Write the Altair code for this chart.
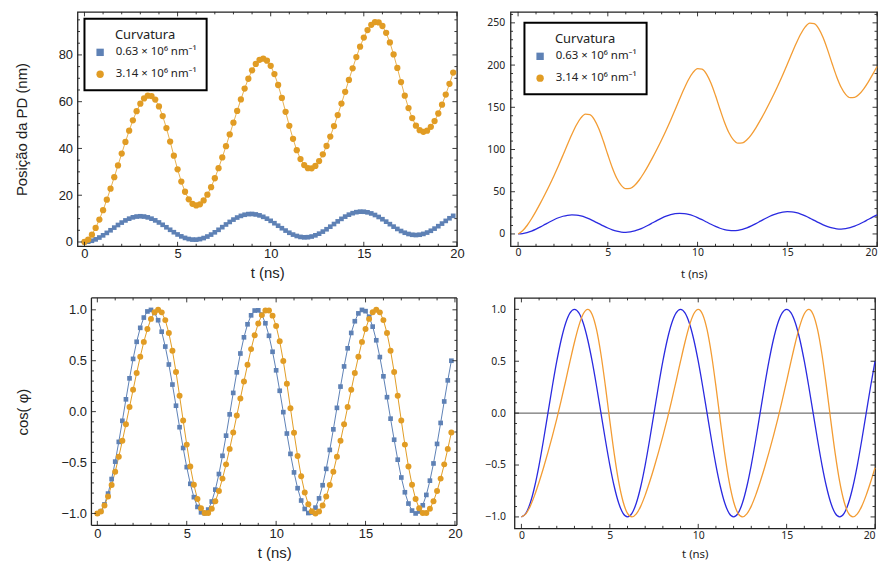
import altair as alt
import pandas as pd

# ---------------- data ----------------
T_LEFT = [0.0,0.2,0.4,0.6,0.8,1.0,1.2,1.4,1.6,1.8,2.0,2.2,2.4,2.6,2.8,3.0,3.2,3.4,3.6,3.8,
          4.0,4.2,4.4,4.6,4.8,5.0,5.2,5.4,5.6,5.8,6.0,6.2,6.4,6.6,6.8,7.0,7.2,7.4,7.6,7.8,
          8.0,8.2,8.4,8.6,8.8,9.0,9.2,9.4,9.6,9.8,10.0,10.2,10.4,10.6,10.8,11.0,11.2,11.4,11.6,11.8,
          12.0,12.2,12.4,12.6,12.8,13.0,13.2,13.4,13.6,13.8,14.0,14.2,14.4,14.6,14.8,15.0,15.2,15.4,15.6,15.8,
          16.0,16.2,16.4,16.6,16.8,17.0,17.2,17.4,17.6,17.8,18.0,18.2,18.4,18.6,18.8,19.0,19.2,19.4,19.6,19.8]

T_RIGHT = [0.0,0.25,0.5,0.75,1.0,1.25,1.5,1.75,2.0,2.25,2.5,2.75,3.0,3.25,3.5,3.75,4.0,4.25,4.5,4.75,
           5.0,5.25,5.5,5.75,6.0,6.25,6.5,6.75,7.0,7.25,7.5,7.75,8.0,8.25,8.5,8.75,9.0,9.25,9.5,9.75,
           10.0,10.25,10.5,10.75,11.0,11.25,11.5,11.75,12.0,12.25,12.5,12.75,13.0,13.25,13.5,13.75,14.0,14.25,14.5,14.75,
           15.0,15.25,15.5,15.75,16.0,16.25,16.5,16.75,17.0,17.25,17.5,17.75,18.0,18.25,18.5,18.75,19.0,19.25,19.5,19.75,
           20.0]

POS_BLUE_L = [0.00,0.15,0.53,1.12,1.91,2.84,3.89,5.01,6.15,7.27,
              8.30,9.22,9.97,10.54,10.88,11.00,10.88,10.53,9.97,9.24,
              8.35,7.35,6.29,5.22,4.18,3.22,2.40,1.74,1.27,1.03,
              1.01,1.23,1.68,2.33,3.17,4.14,5.21,6.34,7.49,8.58,
              9.58,10.45,11.16,11.65,11.93,11.98,11.78,11.38,10.76,9.97,
              9.05,8.03,6.96,5.89,4.88,3.95,3.17,2.57,2.17,1.99,
              2.05,2.34,2.85,3.56,4.44,5.45,6.54,7.68,8.81,9.89,
              10.85,11.68,12.32,12.75,12.97,12.94,12.68,12.21,11.54,10.70,
              9.74,8.70,7.63,6.57,5.58,4.69,3.96,3.42,3.09,2.97,
              3.11,3.46,4.03,4.80,5.72,6.76,7.87,9.02,10.14,11.18]

POS_ORANGE_L = [0.00,1.05,3.13,6.01,9.57,13.61,18.08,22.79,27.72,32.76,
                37.82,42.80,47.59,52.04,55.94,59.15,61.41,62.57,62.42,60.89,
                57.99,53.85,48.72,42.94,36.92,31.08,25.82,21.49,18.27,16.34,
                15.62,16.13,17.75,20.23,23.46,27.26,31.54,36.15,40.99,45.98,
                51.04,56.05,60.95,65.61,69.81,73.42,76.14,77.89,78.41,77.55,
                75.32,71.80,67.13,61.62,55.68,49.69,44.10,39.26,35.47,32.87,
                31.55,31.48,32.53,34.61,37.49,41.05,45.09,49.56,54.27,59.20,
                64.23,69.29,74.27,79.07,83.51,87.42,90.62,92.89,94.05,93.89,
                92.36,89.46,85.33,80.19,74.41,68.39,62.56,57.29,52.97,49.74,
                47.81,47.09,47.61,49.23,51.71,54.94,58.74,63.02,67.62,72.47]

COS_BLUE_L = [-1.000,-0.978,-0.911,-0.805,-0.662,-0.491,-0.297,-0.090,0.121,0.327,
              0.518,0.686,0.823,0.924,0.984,0.999,0.970,0.898,0.785,0.639,
              0.463,0.266,0.058,-0.153,-0.357,-0.545,-0.709,-0.840,-0.936,-0.989,
              -0.998,-0.962,-0.883,-0.766,-0.613,-0.434,-0.236,-0.027,0.184,0.386,
              0.571,0.730,0.858,0.946,0.993,0.995,0.952,0.868,0.745,0.588,
              0.406,0.205,-0.005,-0.215,-0.415,-0.597,-0.752,-0.873,-0.956,-0.996,
              -0.991,-0.943,-0.852,-0.723,-0.562,-0.376,-0.174,0.037,0.246,0.444,
              0.622,0.773,0.888,0.965,0.999,0.987,0.932,0.835,0.701,0.536,
              0.347,0.142,-0.069,-0.276,-0.472,-0.647,-0.792,-0.903,-0.972,-1.000,
              -0.981,-0.920,-0.818,-0.678,-0.509,-0.317,-0.111,0.100,0.307,0.500]

COS_ORANGE_L = [-1.000,-0.980,-0.922,-0.834,-0.721,-0.590,-0.443,-0.287,-0.123,0.045,
                0.214,0.380,0.539,0.685,0.811,0.911,0.976,1.000,0.975,0.899,
                0.772,0.599,0.389,0.155,-0.088,-0.324,-0.539,-0.719,-0.858,-0.949,
                -0.995,-0.995,-0.954,-0.881,-0.780,-0.658,-0.518,-0.366,-0.205,-0.039,
                0.130,0.297,0.460,0.614,0.751,0.866,0.948,0.994,0.994,0.943,
                0.841,0.691,0.498,0.274,0.034,-0.208,-0.435,-0.634,-0.794,-0.910,
                -0.978,-1.000,-0.980,-0.922,-0.834,-0.721,-0.590,-0.443,-0.287,-0.123,
                0.045,0.214,0.380,0.539,0.685,0.811,0.911,0.976,1.000,0.975,
                0.899,0.772,0.599,0.389,0.155,-0.088,-0.324,-0.539,-0.719,-0.858,
                -0.949,-0.995,-0.995,-0.954,-0.881,-0.780,-0.658,-0.518,-0.366,-0.205]

POS_BLUE_R = [0.00,0.45,1.61,3.40,5.72,8.40,11.28,14.16,16.84,19.16,
              20.95,22.11,22.56,22.27,21.27,19.64,17.48,14.96,12.24,9.52,
              7.00,4.84,3.21,2.21,1.92,2.37,3.53,5.32,7.64,10.32,
              13.20,16.08,18.76,21.08,22.87,24.03,24.48,24.19,23.19,21.56,
              19.40,16.88,14.16,11.44,8.92,6.76,5.13,4.13,3.84,4.29,
              5.45,7.24,9.56,12.24,15.12,18.00,20.68,23.00,24.79,25.95,
              26.40,26.11,25.11,23.48,21.32,18.80,16.08,13.36,10.84,8.68,
              7.05,6.05,5.76,6.21,7.37,9.16,11.48,14.16,17.04,19.92,
              22.60]

POS_ORANGE_R = [0.00,3.74,10.01,17.97,27.03,36.75,47.02,57.72,69.03,80.88,
                93.28,105.91,118.09,129.01,137.41,141.93,141.40,135.49,124.55,109.99,
                93.85,78.52,65.99,57.57,53.58,53.88,57.62,63.88,71.85,80.91,
                90.63,100.89,111.59,122.90,134.76,147.16,159.78,171.96,182.89,191.29,
                195.80,195.27,189.37,178.43,163.87,147.72,132.39,119.86,111.44,107.46,
                107.75,111.49,117.76,125.72,134.78,144.50,154.77,165.47,176.78,188.63,
                201.03,213.66,225.84,236.76,245.16,249.68,249.15,243.24,232.30,217.74,
                201.60,186.27,173.74,165.32,161.33,161.63,165.37,171.63,179.60,188.66,
                198.38]

COS_BLUE_R = [-1.000,-0.966,-0.866,-0.707,-0.500,-0.259,0.000,0.259,0.500,0.707,0.866,0.966,
              1.000,0.966,0.866,0.707,0.500,0.259,0.000,-0.259,-0.500,-0.707,-0.866,-0.966,
              -1.000,-0.966,-0.866,-0.707,-0.500,-0.259,0.000,0.259,0.500,0.707,0.866,0.966,
              1.000,0.966,0.866,0.707,0.500,0.259,0.000,-0.259,-0.500,-0.707,-0.866,-0.966,
              -1.000,-0.966,-0.866,-0.707,-0.500,-0.259,0.000,0.259,0.500,0.707,0.866,0.966,
              1.000,0.966,0.866,0.707,0.500,0.259,0.000,-0.259,-0.500,-0.707,-0.866,-0.966,
              -1.000,-0.966,-0.866,-0.707,-0.500,-0.259,0.000,0.259,0.500]

COS_ORANGE_R = [-1.000,-0.971,-0.896,-0.790,-0.664,-0.526,-0.378,-0.222,-0.055,0.122,0.309,0.500,0.683,
                0.843,0.957,1.000,0.951,0.804,0.565,0.260,-0.074,-0.393,-0.661,-0.854,-0.966,
                -1.000,-0.971,-0.896,-0.790,-0.664,-0.526,-0.378,-0.222,-0.055,0.122,0.309,0.500,0.683,
                0.843,0.957,1.000,0.951,0.804,0.565,0.260,-0.074,-0.393,-0.661,-0.854,-0.966,
                -1.000,-0.971,-0.896,-0.790,-0.664,-0.526,-0.378,-0.222,-0.055,0.122,0.309,0.500,0.683,
                0.843,0.957,1.000,0.951,0.804,0.565,0.260,-0.074,-0.393,-0.661,-0.854,-0.966,
                -1.000,-0.971,-0.896,-0.790,-0.664,-0.526]

SERIES = ["0.63 × 10⁶ nm⁻¹", "3.14 × 10⁶ nm⁻¹"]
LEGEND_TITLE = "Curvatura"

X_MAJOR = [0, 5, 10, 15, 20]
X_MINOR = [1, 2, 3, 4, 6, 7, 8, 9, 11, 12, 13, 14, 16, 17, 18, 19]
Y_TL_MAJOR = [0, 20, 40, 60, 80]
Y_TL_MINOR = [5, 10, 15, 25, 30, 35, 45, 50, 55, 65, 70, 75, 85, 90, 95]
Y_TR_MAJOR = [0, 50, 100, 150, 200, 250]
Y_TR_MINOR = [10, 20, 30, 40, 60, 70, 80, 90, 110, 120, 130, 140, 160, 170, 180, 190,
              210, 220, 230, 240, 260]
Y_COS_MAJOR = [-1.0, -0.5, 0.0, 0.5, 1.0]
Y_COS_MINOR = [-0.9, -0.8, -0.7, -0.6, -0.4, -0.3, -0.2, -0.1,
               0.1, 0.2, 0.3, 0.4, 0.6, 0.7, 0.8, 0.9]
ZERO_LINE = [0.0]

# ---------------- styles ----------------
MARK_COLORS = ["#5E81B5", "#E19C24"]
MARK_SHAPES = ["square", "circle"]
LINE_BLUE = "#2A2AE0"
LINE_ORANGE = "#F39C33"
INK = "#222222"
LF = "Liberation Sans"
RF = "Noto Sans"
FRAME_W = 1.3


def sdf(t, y, name):
    return pd.DataFrame({"t": t, "y": y, "s": [name] * len(t)})


def frame_ticks(W, H, xsc, ysc, xax, yax, xmaj, xmin, ymaj, ymin, inset=0, big=4.5, small=2.5):
    out = []
    for vals, ln in ((xmaj, big), (xmin, small)):
        base = alt.Chart(pd.DataFrame({"t": vals})).mark_rule(color=INK, strokeWidth=0.9)
        xe = alt.X("t:Q", scale=xsc, axis=xax)
        out.append(base.encode(x=xe, y=alt.value(H), y2=alt.value(H - ln)))
        out.append(base.encode(x=xe, y=alt.value(0), y2=alt.value(ln)))
    for vals, ln in ((ymaj, big), (ymin, small)):
        base = alt.Chart(pd.DataFrame({"y": vals})).mark_rule(color=INK, strokeWidth=0.9)
        ye = alt.Y("y:Q", scale=ysc, axis=yax)
        out.append(base.encode(y=ye, x=alt.value(inset), x2=alt.value(inset + ln)))
        out.append(base.encode(y=ye, x=alt.value(W), x2=alt.value(W - ln)))
    return out


def make_legend(lx, ly):
    return alt.Legend(
        title=LEGEND_TITLE, orient="none", legendX=lx, legendY=ly,
        titleAnchor="middle", titleFont=RF, titleFontSize=13, titleFontWeight="normal",
        titleColor=INK, titlePadding=5,
        labelFont=RF, labelFontSize=11.5, labelColor=INK, labelOffset=10,
        padding=10, rowPadding=9, symbolSize=55, symbolStrokeWidth=0,
        strokeColor="black", fillColor="white",
    )


def points(df, xsc, ysc, xax, yax, size, legend):
    return alt.Chart(df).mark_point(filled=True, opacity=1, size=size, strokeWidth=0).encode(
        x=alt.X("t:Q", scale=xsc, axis=xax),
        y=alt.Y("y:Q", scale=ysc, axis=yax),
        color=alt.Color("s:N", scale=alt.Scale(domain=SERIES, range=MARK_COLORS), legend=legend),
        shape=alt.Shape("s:N", scale=alt.Scale(domain=SERIES, range=MARK_SHAPES), legend=legend),
    )


def line(df, xsc, ysc, xax, yax, color, width, interp):
    return alt.Chart(df).mark_line(color=color, strokeWidth=width, interpolate=interp).encode(
        x=alt.X("t:Q", scale=xsc, axis=xax),
        y=alt.Y("y:Q", scale=ysc, axis=yax),
    )


def xaxis(font, lsize, tsize, lpad, tpad, flush=False, **extra):
    return alt.Axis(values=X_MAJOR, title="t (ns)", ticks=False, domain=False, grid=False,
                    labelFont=font, labelFontSize=lsize, labelColor=INK, labelPadding=lpad,
                    labelFlush=flush, labelOverlap=False, format="d",
                    titleFont=font, titleFontSize=tsize, titleFontWeight="normal",
                    titleColor=INK, titlePadding=tpad, **extra)


def yaxis(vals, fmt, font, lsize, lpad, title="", tsize=15, tpad=0, **extra):
    return alt.Axis(values=vals, ticks=False, domain=False, grid=False, format=fmt,
                    labelFont=font, labelFontSize=lsize, labelColor=INK, labelPadding=lpad,
                    labelFlush=False, labelOverlap=False,
                    title=title, titleFont=font, titleFontSize=tsize, titleFontWeight="normal",
                    titleColor=INK, titlePadding=tpad, **extra)


# ---------------- top-left: positions, markers ----------------
W1, H1 = 382, 236
xs1 = alt.Scale(domain=[-0.373, 20.0], nice=False, zero=False)
ys1 = alt.Scale(domain=[-1.83, 98.4], nice=False, zero=False)
xa1 = xaxis(LF, 13, 15, 1, 5)
ya1 = yaxis(Y_TL_MAJOR, "d", LF, 13, 5, "Posição da PD (nm)", 15, 29)
dfb1 = sdf(T_LEFT, POS_BLUE_L, SERIES[0])
dfo1 = sdf(T_LEFT, POS_ORANGE_L, SERIES[1])
leg1 = make_legend(7, 7)
tl = alt.layer(
    line(dfb1, xs1, ys1, xa1, ya1, MARK_COLORS[0], 0.8, "linear"),
    line(dfo1, xs1, ys1, xa1, ya1, MARK_COLORS[1], 0.8, "linear"),
    points(dfb1, xs1, ys1, xa1, ya1, 22, leg1),
    points(dfo1, xs1, ys1, xa1, ya1, 40, leg1),
    *frame_ticks(W1, H1, xs1, ys1, xa1, ya1, X_MAJOR, X_MINOR, Y_TL_MAJOR, Y_TL_MINOR),
).properties(width=W1, height=H1)

# ---------------- top-right: positions, lines ----------------
W2, H2 = 369, 236
xs2 = alt.Scale(domain=[-0.42, 20.0], nice=False, zero=False)
ys2 = alt.Scale(domain=[-14.6, 263.0], nice=False, zero=False)
xa2 = xaxis(RF, 10.5, 11.5, 1, 11, flush=2)
ya2 = yaxis(Y_TR_MAJOR, "d", RF, 10.5, 6)
dfb2 = sdf(T_RIGHT, POS_BLUE_R, SERIES[0])
dfo2 = sdf(T_RIGHT, POS_ORANGE_R, SERIES[1])
leg2 = make_legend(14, 11)
tr = alt.layer(
    line(dfb2, xs2, ys2, xa2, ya2, LINE_BLUE, 1.3, "monotone"),
    line(dfo2, xs2, ys2, xa2, ya2, LINE_ORANGE, 1.3, "monotone"),
    points(pd.concat([dfb2, dfo2]), xs2, ys2, xa2, ya2, 28, leg2).transform_filter("datum.t < -1000"),
    *frame_ticks(W2, H2, xs2, ys2, xa2, ya2, X_MAJOR, X_MINOR, Y_TR_MAJOR, Y_TR_MINOR),
).properties(width=W2, height=H2)

# ---------------- bottom-left: cos, markers (frame inset from the row origin) ----------------
INSET = 14
BL_T0, BL_T1 = -0.33, 20.11
W3, H3 = 382, 229
xs3 = alt.Scale(domain=[BL_T0 - INSET / 18.0, BL_T1], nice=False, zero=False)
ys3 = alt.Scale(domain=[-1.117, 1.117], nice=False, zero=False)
xa3 = xaxis(LF, 13, 15, 2, 5, titleX=(W3 + INSET) / 2)
ya3 = yaxis(Y_COS_MAJOR, ".1f", LF, 13, 5, "cos( φ)", 15, 31, offset=-INSET)
dfb3 = sdf(T_LEFT, COS_BLUE_L, SERIES[0])
dfo3 = sdf(T_LEFT, COS_ORANGE_L, SERIES[1])
frame_df = pd.DataFrame({"t": [BL_T0], "t2": [BL_T1]})
frame_v = alt.Chart(pd.DataFrame({"t": [BL_T0, BL_T1]})).mark_rule(
    color=INK, strokeWidth=FRAME_W).encode(x=alt.X("t:Q", scale=xs3, axis=xa3))
frame_top = alt.Chart(frame_df).mark_rule(color=INK, strokeWidth=FRAME_W).encode(
    x=alt.X("t:Q", scale=xs3, axis=xa3), x2="t2:Q", y=alt.value(0))
frame_bot = alt.Chart(frame_df).mark_rule(color=INK, strokeWidth=FRAME_W).encode(
    x=alt.X("t:Q", scale=xs3, axis=xa3), x2="t2:Q", y=alt.value(H3))
bl = alt.layer(
    frame_v, frame_top, frame_bot,
    line(dfb3, xs3, ys3, xa3, ya3, MARK_COLORS[0], 1.0, "linear"),
    line(dfo3, xs3, ys3, xa3, ya3, MARK_COLORS[1], 1.0, "linear"),
    points(dfb3, xs3, ys3, xa3, ya3, 22, None),
    points(dfo3, xs3, ys3, xa3, ya3, 36, None),
    *frame_ticks(W3, H3, xs3, ys3, xa3, ya3, X_MAJOR, X_MINOR, Y_COS_MAJOR, Y_COS_MINOR, inset=INSET),
).properties(width=W3, height=H3, view=alt.ViewBackground(strokeOpacity=0))

# ---------------- bottom-right: cos, lines ----------------
W4, H4 = 363, 232
xs4 = alt.Scale(domain=[-0.39, 20.0], nice=False, zero=False)
ys4 = alt.Scale(domain=[-1.11, 1.11], nice=False, zero=False)
xa4 = xaxis(RF, 10.5, 11.5, 2, 8, flush=2)
ya4 = yaxis(Y_COS_MAJOR, ".1f", RF, 10.5, 9)
dfb4 = sdf(T_RIGHT, COS_BLUE_R, SERIES[0])
dfo4 = sdf(T_RIGHT, COS_ORANGE_R, SERIES[1])
zero4 = alt.Chart(pd.DataFrame({"y": ZERO_LINE})).mark_rule(color="#222222", strokeWidth=0.8).encode(
    y=alt.Y("y:Q", scale=ys4, axis=ya4))
br = alt.layer(
    zero4,
    line(dfb4, xs4, ys4, xa4, ya4, LINE_BLUE, 1.3, "monotone"),
    line(dfo4, xs4, ys4, xa4, ya4, LINE_ORANGE, 1.3, "monotone"),
    *frame_ticks(W4, H4, xs4, ys4, xa4, ya4, X_MAJOR, X_MINOR, Y_COS_MAJOR, Y_COS_MINOR),
).properties(width=W4, height=H4)

top = alt.hconcat(tl, tr, spacing=21).resolve_scale(color="independent", shape="independent")
bottom = alt.hconcat(bl, br, spacing=21)
chart = alt.vconcat(top, bottom, spacing=15).properties(
    padding={"left": 5, "top": 0, "right": 0, "bottom": 0},
    background="white",
).configure_view(stroke=INK, strokeWidth=FRAME_W).configure_legend(strokeWidth=2)

chart.save("out.html", embed_options={"renderer": "svg", "actions": False})
